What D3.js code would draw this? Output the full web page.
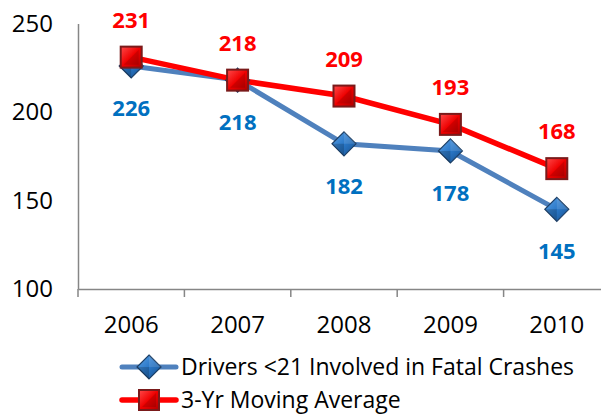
<!DOCTYPE html>
<html>
<head>
<meta charset="utf-8">
<script src="https://cdn.jsdelivr.net/npm/d3@7"></script>
<style>
  body { margin: 0; background: #fff; }
  svg { display: block; font-family: "Open Sans", sans-serif; }
</style>
</head>
<body>
<svg id="chart" width="601" height="415"></svg>
<script>
const years = ["2006", "2007", "2008", "2009", "2010"];
const drivers = [226, 218, 182, 178, 145];
const movingAvg = [231, 218, 209, 193, 168];
const yTicks = [100, 150, 200, 250];
const seriesNames = ["Drivers <21 Involved in Fatal Crashes", "3-Yr Moving Average"];

const width = 601, height = 415;
const svg = d3.select("#chart");

// plot area runs past the right edge, like the original
const x = d3.scaleBand().domain(years).range([78, 610]);
const y = d3.scaleLinear().domain([100, 250]).range([289, 23.5]);
const cx = d => x(d) + x.bandwidth() / 2;

const defs = svg.append("defs");
const redGrad = defs.append("linearGradient").attr("id", "redGrad")
  .attr("x1", "0").attr("y1", "0").attr("x2", "1").attr("y2", "1");
redGrad.append("stop").attr("offset", "0%").attr("stop-color", "#ff4a4a");
redGrad.append("stop").attr("offset", "50%").attr("stop-color", "#ee0000");
redGrad.append("stop").attr("offset", "100%").attr("stop-color", "#b00000");
const blueGrad = defs.append("linearGradient").attr("id", "blueGrad")
  .attr("x1", "0").attr("y1", "0").attr("x2", "1").attr("y2", "1");
blueGrad.append("stop").attr("offset", "0%").attr("stop-color", "#5ea2e6");
blueGrad.append("stop").attr("offset", "50%").attr("stop-color", "#2a78c8");
blueGrad.append("stop").attr("offset", "100%").attr("stop-color", "#174f8c");

// y axis
const yAxis = svg.append("g").attr("transform", "translate(78,0)")
  .call(d3.axisLeft(y).tickValues(yTicks).tickSize(0).tickPadding(25));
yAxis.select(".domain").attr("stroke", "#868686").attr("stroke-width", 1.5);
yAxis.selectAll("text").attr("font-size", 24).attr("fill", "#000")
  .attr("font-family", "'Open Sans', sans-serif");

// x axis
const xAxis = svg.append("g").attr("transform", "translate(0,289)")
  .call(d3.axisBottom(x).tickSize(0).tickPadding(27));
xAxis.select(".domain").attr("stroke", "#868686").attr("stroke-width", 1.5);
xAxis.selectAll("text").attr("font-size", 24).attr("fill", "#000")
  .attr("font-family", "'Open Sans', sans-serif");
// boundary tick marks between categories
svg.append("g").selectAll("line")
  .data(years.concat(["end"]))
  .join("line")
  .attr("x1", (d, i) => x.range()[0] + i * x.step())
  .attr("x2", (d, i) => x.range()[0] + i * x.step())
  .attr("y1", 289).attr("y2", 297)
  .attr("stroke", "#868686").attr("stroke-width", 1.5);

const line = d3.line().x((d, i) => cx(years[i])).y(d => y(d));

// blue series
svg.append("path").datum(drivers).attr("d", line)
  .attr("fill", "none").attr("stroke", "#4f81bd").attr("stroke-width", 5);
// red series
svg.append("path").datum(movingAvg).attr("d", line)
  .attr("fill", "none").attr("stroke", "#ff0000").attr("stroke-width", 5.5);

function diamond(g, px, py, r) {
  g.append("path")
    .attr("d", `M${px},${py - r}L${px + r},${py}L${px},${py + r}L${px - r},${py}Z`)
    .attr("fill", "url(#blueGrad)").attr("stroke", "#1d3f66").attr("stroke-width", 1.2);
  g.append("path")
    .attr("d", `M${px},${py - r}L${px + r},${py}L${px},${py}Z`)
    .attr("fill", "#ffffff").attr("opacity", 0.12);
  g.append("path")
    .attr("d", `M${px - r},${py}L${px},${py + r}L${px},${py}Z`)
    .attr("fill", "#000").attr("opacity", 0.18);
}
function square(g, px, py, h) {
  g.append("rect").attr("x", px - h).attr("y", py - h)
    .attr("width", 2 * h).attr("height", 2 * h)
    .attr("fill", "url(#redGrad)").attr("stroke", "#7a1a1a").attr("stroke-width", 2);
  g.append("path")
    .attr("d", `M${px - h + 3},${py + h - 3}L${px + h - 3},${py - h + 3}L${px + h - 3},${py + h - 3}Z`)
    .attr("fill", "#000").attr("opacity", 0.12);
}

const blueMarks = svg.append("g");
drivers.forEach((v, i) => diamond(blueMarks, cx(years[i]), y(v), 12));
const redMarks = svg.append("g");
movingAvg.forEach((v, i) => square(redMarks, cx(years[i]), y(v), 10.5));

// data labels
svg.append("g").selectAll("text").data(drivers).join("text")
  .attr("x", (d, i) => cx(years[i])).attr("y", d => y(d) + 42)
  .attr("dy", "0.35em").attr("text-anchor", "middle")
  .attr("font-size", 22).attr("font-weight", "bold").attr("fill", "#0070c0")
  .text(d => d);
svg.append("g").selectAll("text").data(movingAvg).join("text")
  .attr("x", (d, i) => cx(years[i])).attr("y", d => y(d) - 37)
  .attr("dy", "0.35em").attr("text-anchor", "middle")
  .attr("font-size", 22).attr("font-weight", "bold").attr("fill", "#ff0000")
  .text(d => d);

// legend
const legendRows = [367, 400];
const legend = svg.append("g");
legend.append("line").attr("x1", 122).attr("x2", 176).attr("y1", legendRows[0]).attr("y2", legendRows[0])
  .attr("stroke", "#4f81bd").attr("stroke-width", 5).attr("stroke-linecap", "round");
diamond(legend, 149, legendRows[0], 12);
legend.append("line").attr("x1", 122).attr("x2", 176).attr("y1", legendRows[1]).attr("y2", legendRows[1])
  .attr("stroke", "#ff0000").attr("stroke-width", 5.5).attr("stroke-linecap", "round");
square(legend, 149, legendRows[1], 10);
legend.selectAll("text.lbl").data(seriesNames).join("text")
  .attr("class", "lbl")
  .attr("x", 181).attr("y", (d, i) => legendRows[i])
  .attr("dy", "0.35em").attr("font-size", 23).attr("fill", "#000")
  .text(d => d);
</script>
</body>
</html>
